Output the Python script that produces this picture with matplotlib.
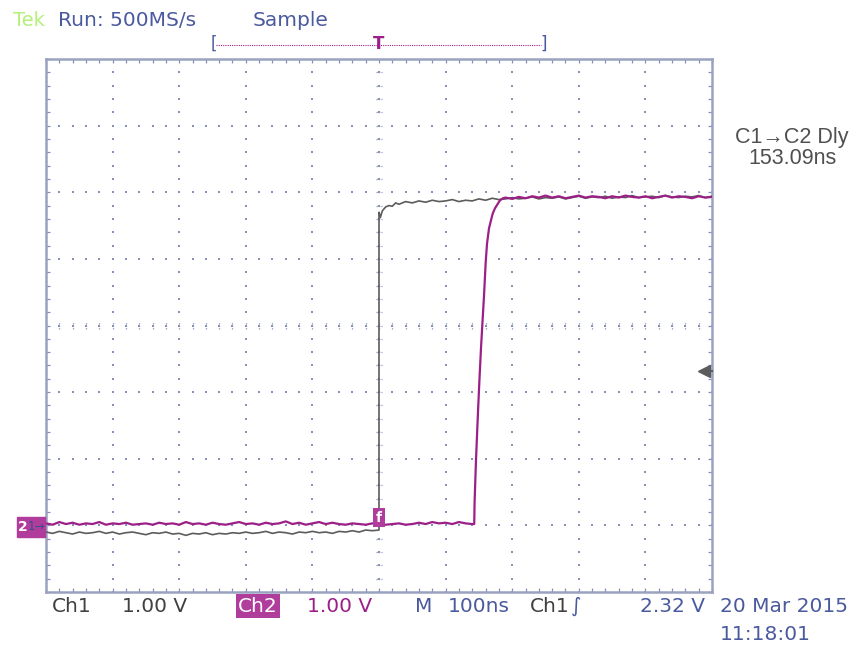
import numpy as np
import matplotlib.pyplot as plt
from matplotlib.patches import Rectangle

ch1_t_low = list(range(-500, 1, 10))
ch1_v_low = [-3.10, -3.12, -3.09, -3.11, -3.13, -3.10, -3.12, -3.11, -3.09, -3.12,
             -3.10, -3.13, -3.11, -3.10, -3.12, -3.14, -3.11, -3.12, -3.10, -3.13,
             -3.12, -3.15, -3.12, -3.13, -3.11, -3.14, -3.12, -3.13, -3.11, -3.12,
             -3.10, -3.12, -3.11, -3.09, -3.12, -3.10, -3.11, -3.13, -3.10, -3.11,
             -3.09, -3.11, -3.10, -3.12, -3.09, -3.10, -3.08, -3.10, -3.07, -3.08, -3.07]
ch1_t_high = [0, 2, 5, 10, 15, 20, 25, 30, 40, 50,
              60, 70, 80, 90, 100, 110, 120, 130, 140, 150,
              160, 170, 180, 190, 200, 210, 220, 230, 240, 250,
              260, 270, 280, 290, 300, 310, 320, 330, 340, 350,
              360, 370, 380, 390, 400, 410, 420, 430, 440, 450,
              460, 470, 480, 490, 500]
ch1_v_high = [1.70, 1.62, 1.72, 1.78, 1.80, 1.79, 1.84, 1.82, 1.86, 1.84,
              1.87, 1.85, 1.88, 1.86, 1.87, 1.89, 1.86, 1.88, 1.87, 1.90,
              1.88, 1.91, 1.89, 1.90, 1.92, 1.90, 1.91, 1.93, 1.90, 1.92,
              1.91, 1.93, 1.90, 1.92, 1.94, 1.91, 1.93, 1.92, 1.94, 1.91,
              1.93, 1.92, 1.95, 1.92, 1.93, 1.94, 1.92, 1.95, 1.93, 1.92,
              1.94, 1.93, 1.95, 1.92, 1.94]

ch2_t_low = list(range(-500, 141, 10))
ch2_v_low = [-2.97, -2.99, -2.95, -2.98, -2.96, -2.99, -2.97, -2.98, -2.95, -2.99,
             -2.97, -2.98, -2.96, -2.99, -2.98, -2.97, -2.99, -2.96, -2.98, -2.97,
             -2.99, -2.95, -2.98, -2.97, -2.99, -2.96, -2.98, -2.99, -2.97, -2.95,
             -2.98, -2.97, -2.99, -2.96, -2.98, -2.97, -2.94, -2.98, -2.96, -2.99,
             -2.97, -2.95, -2.98, -2.96, -2.98, -2.99, -2.97, -2.98, -2.99, -2.97,
             -2.98, -2.99, -2.98, -2.97, -2.99, -2.98, -2.96, -2.98, -2.95, -2.97,
             -2.96, -2.98, -2.95, -2.97, -2.98]
ch2_t_rise = [143, 143.5, 145.6, 148.2, 150.6, 153.2, 155.1, 157.7, 160.2, 162.2,
              165.2, 168.2, 170.7, 174.2, 176.7, 181.7, 186.2]
ch2_v_rise = [-2.98, -2.66, -2.03, -1.40, -0.86, -0.33, 0.00, 0.45, 0.95, 1.23,
              1.46, 1.58, 1.68, 1.76, 1.80, 1.88, 1.91]
ch2_t_high = list(range(190, 501, 10))
ch2_v_high = [1.92, 1.90, 1.93, 1.91, 1.94, 1.92, 1.95, 1.92, 1.94, 1.91,
              1.93, 1.95, 1.92, 1.94, 1.93, 1.91, 1.94, 1.92, 1.95, 1.93,
              1.92, 1.94, 1.91, 1.93, 1.95, 1.92, 1.94, 1.93, 1.91, 1.94,
              1.92, 1.93]

gris = '#5c5c5c'
magenta = '#9b1f86'
azul = '#4a5a9e'
marco = '#9aa2c0'
puntos = '#8790b8'

fig = plt.figure(figsize=(8.57, 6.47), dpi=100)
fig.patch.set_facecolor('white')
ax = fig.add_axes([46 / 857, 1 - 592 / 647, 666 / 857, 533 / 647])
ax.set_xlim(-500, 500)
ax.set_ylim(-4, 4)

# reticula de puntos
for xv in range(-400, 401, 100):
    ys = np.arange(-4, 4.01, 0.2)
    ax.plot([xv] * len(ys), ys, ls='none', marker='s', ms=1.6, mew=0, color=puntos, zorder=1)
for yv in range(-3, 4):
    xs = np.arange(-500, 501, 20)
    ax.plot(xs, [yv] * len(xs), ls='none', marker='s', ms=1.6, mew=0, color=puntos, zorder=1)
# marcas del eje central
for yv in np.arange(-4, 4.01, 0.2):
    ax.plot([-5, 5], [yv, yv], color=puntos, lw=0.9, ls=(0, (1, 1)), zorder=1)
for xv in np.arange(-500, 501, 20):
    ax.plot([xv, xv], [-0.06, 0.06], color=puntos, lw=0.9, ls=(0, (1, 1)), zorder=1)

# marco con marcas
for s in ax.spines.values():
    s.set_color(marco)
    s.set_linewidth(1.8)
ax.set_xticks(np.arange(-500, 501, 20))
ax.set_yticks(np.arange(-4, 4.01, 0.2))
ax.tick_params(direction='in', length=3, width=0.9, color=puntos,
               top=True, right=True, labelbottom=False, labelleft=False)

# trazas
ax.plot(ch1_t_low + ch1_t_high, ch1_v_low + ch1_v_high, color=gris, lw=1.2, zorder=3)
ax.plot(ch2_t_low + ch2_t_rise + ch2_t_high, ch2_v_low + ch2_v_rise + ch2_v_high,
        color=magenta, lw=1.6, zorder=4)


def px(x, y):
    return x / 857, 1 - y / 647


# cabecera
fig.text(*px(13, 21), 'Tek', color='#b4f07a', fontsize=14, va='center')
fig.text(*px(58, 21), 'Run: 500MS/s', color=azul, fontsize=14.5, va='center')
fig.text(*px(253, 21), 'Sample', color=azul, fontsize=14.5, va='center')
fig.text(*px(211, 44), '[', color=azul, fontsize=12, va='center')
fig.text(*px(540, 44), ']', color=azul, fontsize=12, va='center')
fig.lines.append(plt.Line2D([216 / 857, 541 / 857], [1 - 45 / 647] * 2, transform=fig.transFigure,
                            color=magenta, lw=0.8, ls=(0, (1, 1))))
fig.text(*px(379, 44), 'T', color=magenta, fontsize=12, ha='center', va='center', weight='bold')

# medida
fig.text(*px(792, 138), 'C1\u2192C2 Dly', color='#505050', fontsize=15.5, ha='center', va='center',
         family='Liberation Sans')
fig.text(*px(792, 158), '153.09ns', color='#505050', fontsize=15.5, ha='center', va='center',
         family='Liberation Sans')

# marcadores de canal y disparo
fig.patches.append(Rectangle(px(17, 537), 28 / 857, 20 / 647, transform=fig.transFigure,
                             color='#b03c9c', zorder=1))
fig.text(*px(18, 527), '2', color='white', fontsize=10, ha='left', va='center', weight='bold', zorder=5)
fig.text(*px(28, 527), '1\u2192', color='#3c4c8c', fontsize=8.5, ha='left', va='center', zorder=6)
ax.text(0, -2.99, 'f', color='white', fontsize=10, ha='center', va='bottom', weight='bold',
        bbox=dict(boxstyle='square,pad=0.2', fc='#b03c9c', ec='none'), zorder=6)
ax.plot(488, -0.68, marker='<', ms=8, color=gris, clip_on=False, zorder=6)
ax.plot([488, 500], [-0.68, -0.68], color=gris, lw=1.5, clip_on=False, zorder=6)

# barra inferior
fn = dict(fontsize=14.5, va='center')
fig.text(*px(52, 606), 'Ch1', color='#404040', **fn)
fig.text(*px(122, 606), '1.00 V', color='#404040', **fn)
fig.text(*px(238, 606), 'Ch2', color='white',
         bbox=dict(boxstyle='square,pad=0.1', fc='#b03c9c', ec='none'), **fn)
fig.text(*px(307, 606), '1.00 V', color=magenta, **fn)
fig.text(*px(415, 606), 'M', color=azul, **fn)
fig.text(*px(448, 606), '100ns', color=azul, **fn)
fig.text(*px(530, 606), 'Ch1', color='#404040', **fn)
fig.text(*px(571, 606), '\u222b', color=azul, **fn)
fig.text(*px(640, 606), '2.32 V', color=azul, **fn)
fig.text(*px(720, 607), '20 Mar 2015', color=azul, **fn)
fig.text(*px(720, 634), '11:18:01', color=azul, **fn)

fig.savefig('out.png', dpi=100)
